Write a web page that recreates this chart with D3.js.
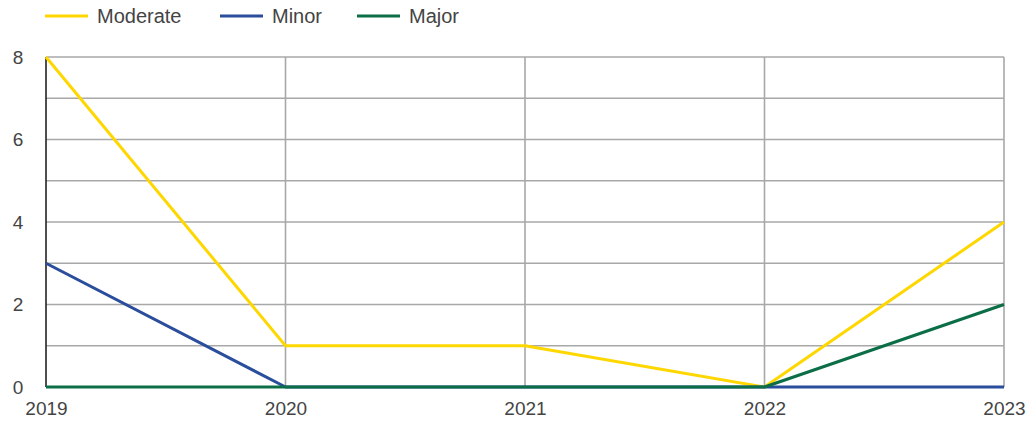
<!DOCTYPE html>
<html><head><meta charset="utf-8">
<script src="https://cdn.jsdelivr.net/npm/d3@7"></script>
<style>body{margin:0;background:#fff}svg{display:block}</style>
</head><body>
<svg id="c" width="1028" height="425"></svg>
<script>
const years = ["2019","2020","2021","2022","2023"];
const moderate = [8,1,1,0,4];
const minor = [3,0,0,0,0];
const major = [0,0,0,0,2];
const yTicks = [0,2,4,6,8];
const gridTicks = [0,1,2,3,4,5,6,7,8];
const seriesNames = ["Moderate","Minor","Major"];
const seriesColors = ["#FFD700","#2A4D9C","#0B6E47"];
const seriesData = [moderate, minor, major];

const svg = d3.select("#c");
const L = 46, R = 1004, T = 57, B = 387;
const x = d3.scalePoint().domain(years).range([L, R]);
const y = d3.scaleLinear().domain([0, 8]).range([B, T]);
const font = "Liberation Sans, Arial, sans-serif";

// horizontal gridlines
svg.append("g").selectAll("line").data(gridTicks).join("line")
  .attr("x1", L).attr("x2", R).attr("y1", d => y(d)).attr("y2", d => y(d))
  .attr("stroke", "#a8a8a8").attr("stroke-width", 1.6);
// vertical gridlines
svg.append("g").selectAll("line").data(years.slice(1)).join("line")
  .attr("x1", d => x(d)).attr("x2", d => x(d)).attr("y1", T).attr("y2", B)
  .attr("stroke", "#a8a8a8").attr("stroke-width", 1.6);
// left axis line
svg.append("line").attr("x1", L).attr("x2", L).attr("y1", T).attr("y2", B)
  .attr("stroke", "#222").attr("stroke-width", 1.6);

// y axis labels
const yAxis = d3.axisLeft(y).tickValues(yTicks).tickSize(0).tickPadding(28);
const gy = svg.append("g").attr("transform", `translate(${L},0)`).call(yAxis);
gy.select(".domain").remove();
gy.selectAll("text").attr("font-family", font).attr("font-size", 19).attr("fill", "#444").attr("text-anchor","middle");

// x axis labels
const xAxis = d3.axisBottom(x).tickSize(0).tickPadding(15);
const gx = svg.append("g").attr("transform", `translate(0,${B})`).call(xAxis);
gx.select(".domain").remove();
gx.selectAll("text").attr("font-family", font).attr("font-size", 19).attr("fill", "#444");

// lines
const line = d3.line().x((d,i) => x(years[i])).y(d => y(d));
seriesData.forEach((s, k) => {
  svg.append("path").datum(s).attr("d", line).attr("fill", "none")
    .attr("stroke", seriesColors[k]).attr("stroke-width", 3).attr("stroke-linejoin","round");
});

// legend
const legX = [45, 220, 357];
const lg = svg.append("g");
seriesNames.forEach((n, k) => {
  lg.append("line").attr("x1", legX[k]).attr("x2", legX[k] + 43).attr("y1", 16).attr("y2", 16)
    .attr("stroke", seriesColors[k]).attr("stroke-width", 3);
  lg.append("text").attr("x", legX[k] + 52).attr("y", 16).attr("dy", "0.35em")
    .attr("font-family", font).attr("font-size", 20).attr("fill", "#444").text(n);
});
</script>
</body></html>
